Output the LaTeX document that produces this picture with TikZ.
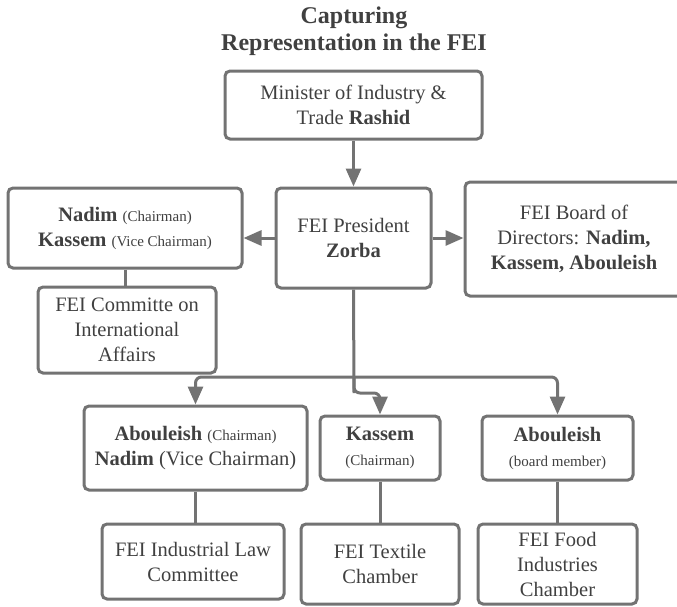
\documentclass[tikz,border=0pt]{standalone}
\usepackage{fontspec}
\setmainfont{LiberationSerif}[Extension=.ttf, UprightFont=*-Regular, BoldFont=*-Bold]
\usetikzlibrary{arrows.meta}
\definecolor{boxgray}{HTML}{737373}
\definecolor{textgray}{HTML}{404040}
\newcommand{\sm}[1]{{\fontsize{15}{18}\selectfont #1}}

\begin{document}
\begin{tikzpicture}[x=1pt,y=-1pt,
  box/.style={draw=boxgray, line width=3pt, rounded corners=5pt, align=center,
    text=textgray, font=\fontsize{20.5}{25}\selectfont, inner sep=2pt},
  link/.style={draw=boxgray, line width=3pt, rounded corners=6pt},
  arrow/.style={link, -{Triangle[length=18pt,width=15pt]}}]
\clip (0,0) rectangle (677,606);
\node (title) at (354,31) [align=center, text=textgray, font=\bfseries\fontsize{24}{27}\selectfont] {Capturing\\Representation in the FEI};
\node (minister) at (353.5,105) [box, minimum width=257, minimum height=68] {Minister of Industry \&\\Trade \textbf{Rashid}};
\node (zorba) at (353.5,238) [box, minimum width=155, minimum height=100] {FEI President\\\textbf{Zorba}};
\node (nadim) at (125,228) [box, minimum width=234, minimum height=80] {\textbf{Nadim} \sm{(Chairman)}\\\textbf{Kassem} \sm{(Vice Chairman)}};
\node (board) at (574,239) [box, minimum width=218, minimum height=114] {FEI Board of\\Directors: \textbf{Nadim,}\\\textbf{Kassem, Abouleish}};
\node (intl) at (127,330) [box, minimum width=178, minimum height=86] {FEI Committe on\\International\\Affairs};
\node (lawhead) at (195.5,448) [box, minimum width=223, minimum height=84] {\textbf{Abouleish} \sm{(Chairman)}\\\textbf{Nadim} (Vice Chairman)};
\node (texthead) at (380,448) [box, minimum width=120, minimum height=64] {\textbf{Kassem}\\\sm{(Chairman)}};
\node (foodhead) at (557.5,448) [box, minimum width=151, minimum height=64] {\textbf{Abouleish}\\\sm{(board member)}};
\node (law) at (193,561.5) [box, minimum width=182, minimum height=75] {FEI Industrial Law\\Committee};
\node (textile) at (380,564) [box, minimum width=158, minimum height=80] {FEI Textile\\Chamber};
\node (food) at (557.5,564) [box, minimum width=159, minimum height=80] {FEI Food\\Industries\\Chamber};
\coordinate (split) at (354,377);
\coordinate (jog) at (354,393);
\draw[arrow] (minister.south) -- (zorba.north);
\draw[arrow] (zorba.west) -- (zorba.west -| nadim.east);
\draw[arrow] (zorba.east) -- (zorba.east -| board.west);
\draw[link] (nadim.south) -- (nadim.south |- intl.north);
\draw[link] (zorba.south) -- (jog);
\draw[arrow] (split) -| (lawhead.north);
\draw[arrow] (split) -| (foodhead.north);
\draw[arrow] (split) -- (jog) -| (texthead.north);
\draw[link] (lawhead.south) -- (lawhead.south |- law.north);
\draw[link] (texthead.south) -- (textile.north);
\draw[link] (foodhead.south) -- (food.north);
\end{tikzpicture}
\end{document}
